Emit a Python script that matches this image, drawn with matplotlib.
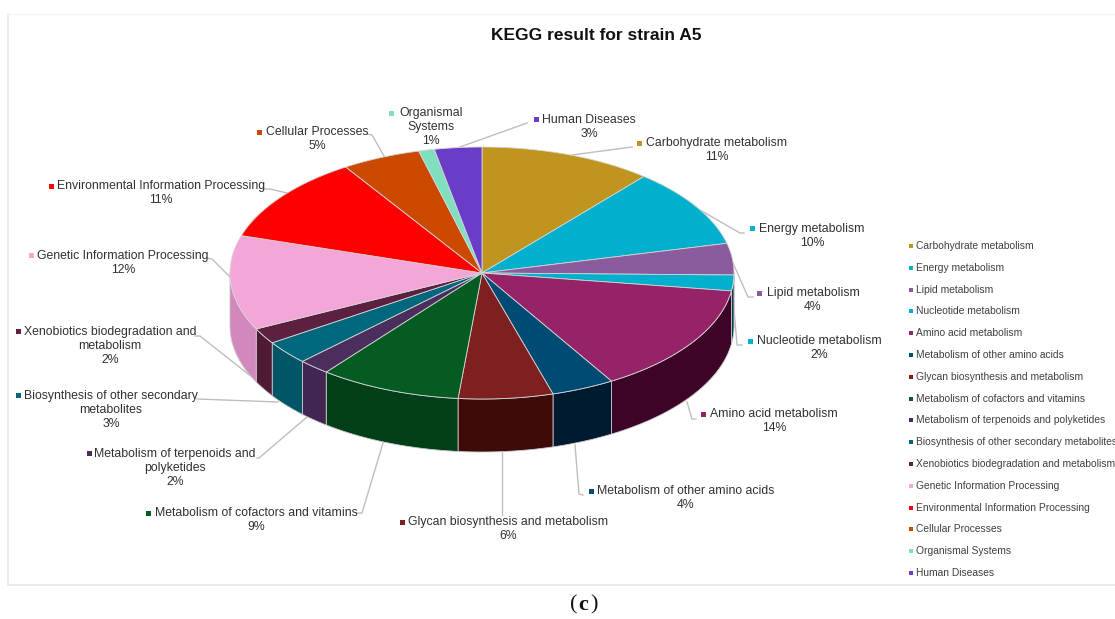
import numpy as np
import matplotlib
matplotlib.use('Agg')
import matplotlib.pyplot as plt

plt.rcParams['font.family'] = ['Liberation Sans', 'DejaVu Sans']

categories = ['Carbohydrate metabolism', 'Energy metabolism', 'Lipid metabolism',
              'Nucleotide metabolism', 'Amino acid metabolism',
              'Metabolism of other amino acids', 'Glycan biosynthesis and metabolism',
              'Metabolism of cofactors and vitamins',
              'Metabolism of terpenoids and polyketides',
              'Biosynthesis of other secondary metabolites',
              'Xenobiotics biodegradation and metabolism',
              'Genetic Information Processing', 'Environmental Information Processing',
              'Cellular Processes', 'Organismal Systems', 'Human Diseases']
percents = [11, 10, 4, 2, 14, 4, 6, 9, 2, 3, 2, 12, 11, 5, 1, 3]

top_colors = ['#BF9520', '#00B0CC', '#8A5C9E', '#00B0CC', '#962268', '#004B73',
              '#7F2020', '#045C23', '#4B2D5E', '#00677C', '#5C2141', '#F5A6D8',
              '#FF0000', '#CC4A00', '#7FDFBF', '#6A3DC8']
side_colors = ['#7F6315', '#00505E', '#5C3D69', '#004050', '#3D0428', '#001A30',
               '#3E0A0A', '#003F18', '#402650', '#005566', '#4E1A34', '#D288BC',
               '#AA0000', '#883100', '#55957F', '#472985']
legend_colors = top_colors

# wrapped label text, one list per slice
label_lines = [['Carbohydrate metabolism'], ['Energy metabolism'], ['Lipid metabolism'],
               ['Nucleotide metabolism'], ['Amino acid metabolism'],
               ['Metabolism of other amino acids'],
               ['Glycan biosynthesis and metabolism'],
               ['Metabolism of cofactors and vitamins'],
               ['Metabolism of terpenoids and', 'polyketides'],
               ['Biosynthesis of other secondary', 'metabolites'],
               ['Xenobiotics biodegradation and', 'metabolism'],
               ['Genetic Information Processing'],
               ['Environmental Information Processing'],
               ['Cellular Processes'], ['Organismal', 'Systems'], ['Human Diseases']]
label_centers = [(717, 143), (812, 229), (813, 293), (819, 341), (774, 414), (686, 491),
                 (508, 522), (256, 513), (175, 454), (111, 396), (110, 332), (123, 256),
                 (161, 186), (317, 132), (431, 113), (589, 120)]
label_keys = [(639, 143), (752, 228), (759, 293), (750, 341), (703, 414), (591, 491),
              (402, 522), (148, 513), (89, 453), (18, 395), (18, 331), (31, 255),
              (51, 186), (259, 132), (391, 113), (536, 119)]
leaders = [[(572, 155), (632, 147)],
           [(700, 210), (740, 233), (744, 233)],
           [(733, 263), (748, 297), (753, 297)],
           [(733, 297), (737, 345), (742, 345)],
           [(687, 402), (692, 419), (696, 419)],
           [(575, 445), (579, 494), (583, 495)],
           [(502, 452), (502, 515)],
           [(383, 443), (362, 513), (357, 513)],
           [(307, 417), (259, 458), (257, 458)],
           [(278, 402), (197, 399)],
           [(252, 377), (200, 336), (195, 336)],
           [(230, 277), (212, 259), (207, 258)],
           [(287, 193), (270, 189), (263, 189)],
           [(384, 156), (372, 135), (367, 134)],
           [(460, 147), (527, 123)]]

cx, cy = 482, 273
rx, ry = 252, 126
depth = 53


def rim(theta):
    return cx + rx * np.sin(theta), cy - ry * np.cos(theta)


fig = plt.figure(figsize=(11.15, 6.19), dpi=100)
ax = fig.add_axes([0, 0, 1, 1])
ax.set_xlim(0, 1115)
ax.set_ylim(619, 0)
ax.axis('off')

# panel outline
ax.plot([8, 8, 1115], [14, 585, 585], color='#E6E6E6', lw=1.2)
ax.plot([8, 1115], [14, 14], color='#F3F3F3', lw=1)

ax.text(596, 35, 'KEGG result for strain A5', fontsize=12.5, fontweight='bold',
        color='#111111', ha='center', va='center')

edges = np.cumsum([0] + percents) / sum(percents) * 2 * np.pi

# side walls: only the front half of the rim faces the viewer
for i in range(len(percents)):
    a0 = max(edges[i], np.pi / 2)
    a1 = min(edges[i + 1], 3 * np.pi / 2)
    if a1 <= a0:
        continue
    t = np.linspace(a0, a1, 60)
    x, y = rim(t)
    ax.fill(np.r_[x, x[::-1]], np.r_[y, y[::-1] + depth], facecolor=side_colors[i],
            edgecolor='#C8C8C8', lw=0.6, zorder=2)

# top face
for i in range(len(percents)):
    t = np.linspace(edges[i], edges[i + 1], 80)
    x, y = rim(t)
    ax.fill(np.r_[cx, x], np.r_[cy, y], facecolor=top_colors[i],
            edgecolor='#D5D5D5', lw=0.6, zorder=3)

for pts in leaders:
    xs, ys = zip(*pts)
    ax.plot(xs, ys, color='#BEBEBE', lw=1, zorder=1)

# slice labels
for lines, pct, c, key, col in zip(label_lines, percents, label_centers, label_keys, top_colors):
    rows = lines + ['%d%%' % pct]
    for j, row in enumerate(rows):
        ax.text(c[0], c[1] + j * 14.2, row, fontsize=8.8, color='#303030',
                ha='center', va='center', zorder=5)
    ax.plot(key[0], key[1], marker='s', ms=3.6, color=col, mew=0, zorder=5)

# legend column on the right
legend_y = np.arange(len(categories)) * 21.8 + 246
for name, col, y in zip(categories, legend_colors, legend_y):
    ax.plot(911, y, marker='s', ms=3, color=col, mew=0)
    ax.text(916, y, name, fontsize=7.35, color='#404040', ha='left', va='center')

ax.text(577.5, 605, '(', fontsize=16, family=['Liberation Serif'], color='#111111',
        ha='right', va='center')
ax.text(583.5, 605, 'c', fontsize=16, family=['Liberation Serif'], fontweight='bold',
        color='#111111', ha='center', va='center')
ax.text(590, 605, ')', fontsize=16, family=['Liberation Serif'], color='#111111',
        ha='left', va='center')

fig.savefig('out.png', dpi=100)
